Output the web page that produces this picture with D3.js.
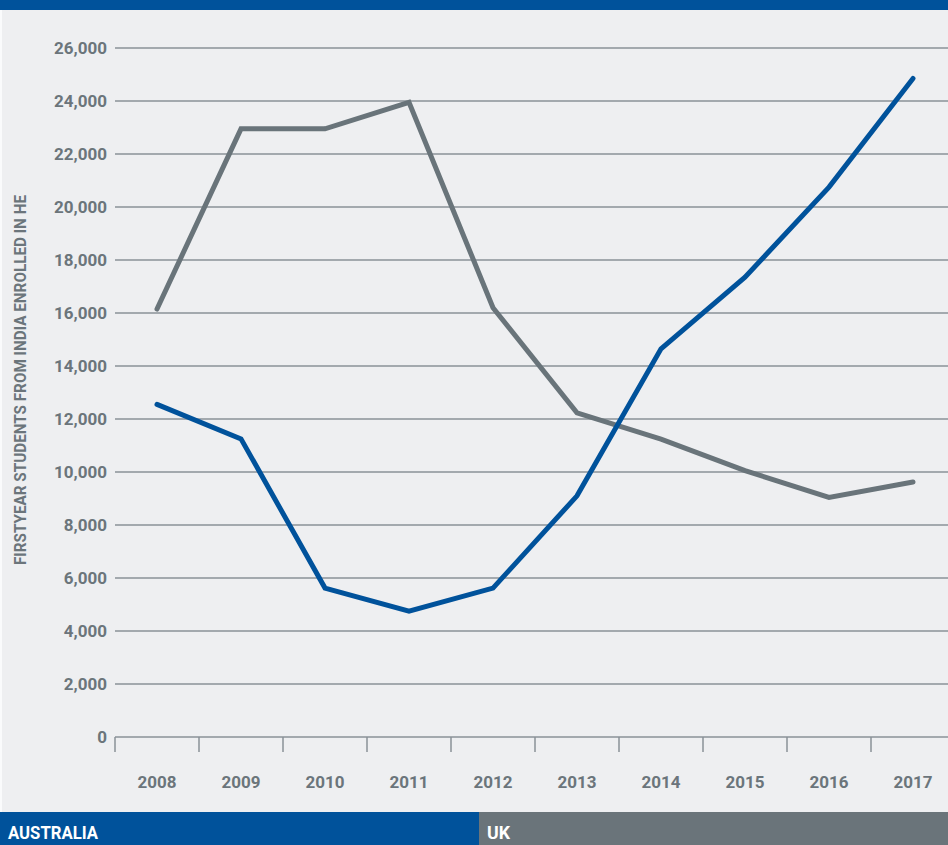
<!DOCTYPE html>
<html>
<head>
<meta charset="utf-8">
<script src="https://cdn.jsdelivr.net/npm/d3@7"></script>
<style>
  body { margin: 0; background: #eeeff1; }
  svg { display: block; }
  text { font-family: Roboto, "Liberation Sans", sans-serif; font-weight: bold; }
</style>
</head>
<body>
<div id="chart"></div>
<script>
const width = 948;
const height = 845;
const margin = { top: 48, right: 0, left: 115, bottom: 108 };

const years = ['2008', '2009', '2010', '2011', '2012', '2013', '2014', '2015', '2016', '2017'];
const australia = [12550, 11250, 5620, 4750, 5620, 9100, 14650, 17350, 20750, 24850];
const uk = [16150, 22950, 22950, 23950, 16200, 12230, 11240, 10050, 9040, 9620];
const yTicks = [0, 2000, 4000, 6000, 8000, 10000, 12000, 14000, 16000, 18000, 20000, 22000, 24000, 26000];
const yLabel = 'FIRSTYEAR STUDENTS FROM INDIA ENROLLED IN HE';
const legendNames = ['AUSTRALIA', 'UK'];

const blue = '#00529b';
const grey = '#69747a';
const textGrey = '#6b757b';
const gridGrey = '#8a9297';

const svg = d3.select('#chart')
    .append('svg')
    .attr('width', width)
    .attr('height', height);

// background + top band
svg.append('rect').attr('width', width).attr('height', height).attr('fill', '#eeeff1');
svg.append('rect').attr('x', 0).attr('y', 0).attr('width', 2).attr('height', height).attr('fill', '#fafbfc');
svg.append('rect').attr('width', width).attr('height', 10).attr('fill', blue);

const xScale = d3.scaleBand()
    .domain(years)
    .range([margin.left, margin.left + 84 * years.length]);

const yScale = d3.scaleLinear()
    .domain([0, 26000])
    .range([height - margin.bottom, margin.top]);

// grid lines
svg.append('g')
    .selectAll('line')
    .data(yTicks)
    .join('line')
    .attr('x1', margin.left)
    .attr('x2', width)
    .attr('y1', d => yScale(d))
    .attr('y2', d => yScale(d))
    .attr('stroke', gridGrey)
    .attr('stroke-width', 1.5);

// y axis labels
svg.append('g')
    .selectAll('text')
    .data(yTicks)
    .join('text')
    .attr('x', 107)
    .attr('y', d => yScale(d))
    .attr('dy', '0.36em')
    .attr('text-anchor', 'end')
    .attr('fill', textGrey)
    .style('font-size', '17px')
    .text(d => d3.format(',')(d));

// x axis ticks
const xAxis = d3.axisBottom(xScale).tickSize(15).tickSizeOuter(0).tickPadding(24);
const gx = svg.append('g')
    .attr('transform', `translate(0,${yScale(0)})`)
    .call(xAxis);
gx.select('.domain').remove();
gx.selectAll('.tick line')
    .attr('transform', `translate(${-xScale.bandwidth() / 2},0)`)
    .attr('stroke', gridGrey)
    .attr('stroke-width', 1.5);
gx.selectAll('.tick text')
    .attr('fill', textGrey)
    .style('font-size', '17px')
    .style('font-family', 'Roboto, sans-serif')
    .style('font-weight', 'bold');

// y axis title
svg.append('text')
    .attr('transform', `translate(26,${380}) rotate(-90)`)
    .attr('text-anchor', 'middle')
    .attr('fill', textGrey)
    .attr('textLength', 370)
    .attr('lengthAdjust', 'spacingAndGlyphs')
    .style('font-size', '16px')
    .text(yLabel);

// lines
const line = d3.line()
    .x((d, i) => xScale(years[i]) + xScale.bandwidth() / 2)
    .y(d => yScale(d));

svg.append('path')
    .datum(uk)
    .attr('d', line)
    .attr('fill', 'none')
    .attr('stroke', grey)
    .attr('stroke-width', 5)
    .attr('stroke-linecap', 'round');

svg.append('path')
    .datum(australia)
    .attr('d', line)
    .attr('fill', 'none')
    .attr('stroke', blue)
    .attr('stroke-width', 5)
    .attr('stroke-linecap', 'round');

// legend band at bottom
const legend = svg.append('g').attr('transform', `translate(0,812)`);
const legendX = d3.scaleOrdinal().domain(legendNames).range([0, 479]);
const legendW = d3.scaleOrdinal().domain(legendNames).range([479, width - 479]);
const legendC = d3.scaleOrdinal().domain(legendNames).range([blue, '#6a747a']);
const legendLen = d3.scaleOrdinal().domain(legendNames).range([90, 23]);

legend.selectAll('rect')
    .data(legendNames)
    .join('rect')
    .attr('x', d => legendX(d))
    .attr('width', d => legendW(d))
    .attr('height', height - 812)
    .attr('fill', d => legendC(d));

legend.selectAll('text')
    .data(legendNames)
    .join('text')
    .attr('x', d => legendX(d) + 8)
    .attr('y', 27)
    .attr('fill', '#ffffff')
    .attr('textLength', d => legendLen(d))
    .attr('lengthAdjust', 'spacingAndGlyphs')
    .style('font-size', '19px')
    .text(d => d);
</script>
</body>
</html>
